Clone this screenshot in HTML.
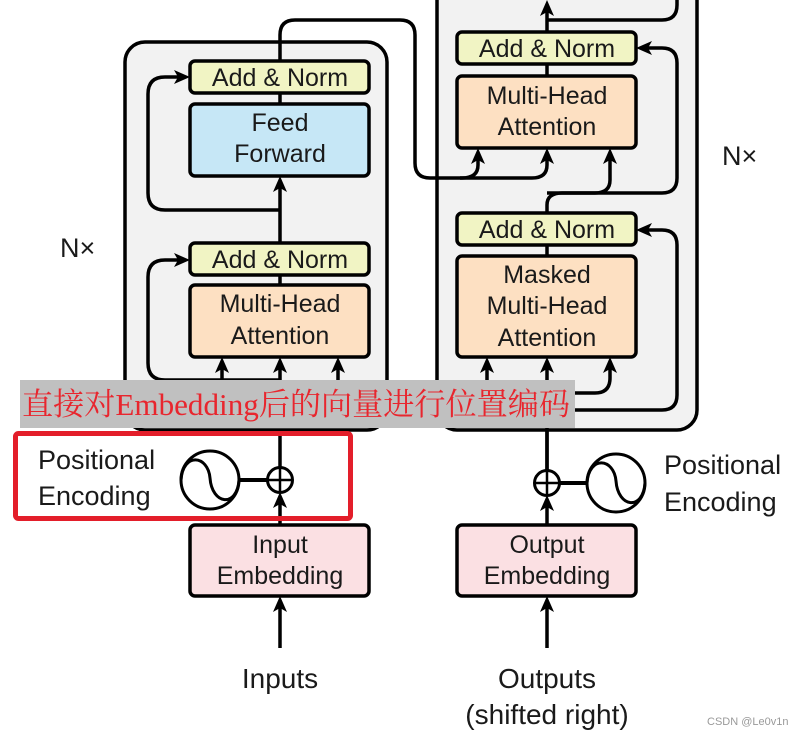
<!DOCTYPE html>
<html><head><meta charset="utf-8"><style>
html,body{margin:0;padding:0;background:#fff;width:805px;height:734px;overflow:hidden}
svg text{font-family:"Liberation Sans",sans-serif;fill:#1a1a1a}
</style></head><body>
<svg width="805" height="734" viewBox="0 0 805 734" xmlns="http://www.w3.org/2000/svg">
<g stroke="#000" stroke-width="3.5" fill="none">
<rect x="125" y="42" width="262" height="388" rx="20" fill="#f2f2f2"/>
<rect x="437" y="-30" width="260" height="460" rx="20" fill="#f2f2f2"/>
<path d="M280 420 V367"/>
<path d="M280 380 H165 Q148 380 148 363 V277 Q148 260 165 260 H180"/>
<path d="M222 380 V367"/>
<path d="M338 380 V367"/>
<path d="M280 243 V186"/>
<path d="M280 210 H165 Q148 210 148 193 V94 Q148 77 165 77 H180"/>
<path d="M280 61 V35 Q280 20 295 20 H400 Q415 20 415 35 V163 Q415 178 430 178 H462 Q478 178 478 165 V158"/>
<path d="M460 178 H532 Q547 178 547 165 V158"/>
<path d="M547 470 V367"/>
<path d="M547 410 H662 Q677 410 677 395 V245 Q677 230 662 230 H646"/>
<path d="M487 380 V367"/>
<path d="M547 393 H595 Q610 393 610 378 V367"/>
<path d="M547 213 V205 Q547 193 562 193 H595 Q610 193 610 180 V158"/>
<path d="M547 193 H662 Q677 193 677 178 V63 Q677 48 662 48 H646"/>
<path d="M547 32 V10"/>
<path d="M547 20 H662 Q677 20 677 5 V-5"/>
<rect x="190" y="61" width="179" height="32" rx="5" fill="#f1f4c4"/>
<rect x="190" y="104" width="179" height="72" rx="5" fill="#c6e7f6"/>
<rect x="190" y="243" width="179" height="32" rx="5" fill="#f1f4c4"/>
<rect x="190" y="285" width="179" height="72" rx="5" fill="#fde0c2"/>
<rect x="457" y="32" width="179" height="32" rx="5" fill="#f1f4c4"/>
<rect x="457" y="76" width="179" height="72" rx="5" fill="#fde0c2"/>
<rect x="457" y="213" width="179" height="32" rx="5" fill="#f1f4c4"/>
<rect x="457" y="256" width="179" height="101" rx="5" fill="#fde0c2"/>
<line x1="280" y1="93" x2="280" y2="104"/><line x1="280" y1="275" x2="280" y2="285"/>
<line x1="547" y1="64" x2="547" y2="76"/><line x1="547" y1="245" x2="547" y2="256"/>
<rect x="190" y="525" width="179" height="71" rx="5" fill="#fbe0e3"/>
<rect x="457" y="525" width="179" height="71" rx="5" fill="#fbe0e3"/>
<path d="M280 648 V606"/>
<path d="M547 648 V606"/>
<path d="M280 525 V502"/>
<path d="M547 525 V505"/>
<line x1="280" y1="468" x2="280" y2="430"/>
<line x1="547" y1="471" x2="547" y2="430"/>
<circle cx="280" cy="480" r="12.5" fill="#fff" stroke-width="3"/>
<path d="M267 480 H293 M280 467 V493" stroke-width="2.5"/>
<circle cx="547" cy="483" r="12.5" fill="#fff" stroke-width="3"/>
<path d="M534 483 H560 M547 470 V496" stroke-width="2.5"/>
<line x1="239" y1="480" x2="268" y2="480" stroke-width="4"/>
<line x1="559" y1="483" x2="587" y2="483" stroke-width="4"/>
<circle cx="210" cy="480" r="29" fill="#fff" stroke-width="3"/>
<path d="M181 480 C183 452 208 455 210 478 C212 505 237 508 239 480" stroke-width="3"/>
<circle cx="616" cy="483" r="29" fill="#fff" stroke-width="3"/>
<path d="M587 483 C589 455 614 458 616 481 C618 508 643 511 645 483" stroke-width="3"/>
</g>
<g fill="#000">
<path d="M222 357 l-7 16 l7 -4 l7 4z"/><path d="M338 357 l-7 16 l7 -4 l7 4z"/>
<path d="M280 357 l-7 16 l7 -4 l7 4z"/><path d="M280 176 l-7 16 l7 -4 l7 4z"/>
<path d="M478 148 l-7 16 l7 -4 l7 4z"/><path d="M547 148 l-7 16 l7 -4 l7 4z"/>
<path d="M610 148 l-7 16 l7 -4 l7 4z"/><path d="M487 357 l-7 16 l7 -4 l7 4z"/>
<path d="M547 357 l-7 16 l7 -4 l7 4z"/><path d="M610 357 l-7 16 l7 -4 l7 4z"/>
<path d="M547 0 l-7 16 l7 -4 l7 4z"/><path d="M280 596 l-7 16 l7 -4 l7 4z"/>
<path d="M547 596 l-7 16 l7 -4 l7 4z"/><path d="M280 492 l-7 16 l7 -4 l7 4z"/>
<path d="M547 495 l-7 16 l7 -4 l7 4z"/>
<path d="M190 260 l-16 -7 l4 7 l-4 7z"/><path d="M190 77 l-16 -7 l4 7 l-4 7z"/>
<path d="M636 230 l16 -7 l-4 7 l4 7z"/><path d="M636 48 l16 -7 l-4 7 l4 7z"/>
</g>
<g font-size="25" text-anchor="middle">
<text x="280" y="86">Add &amp; Norm</text>
<text x="280" y="131">Feed</text><text x="280" y="162">Forward</text>
<text x="280" y="268">Add &amp; Norm</text>
<text x="280" y="312">Multi-Head</text><text x="280" y="344">Attention</text>
<text x="547" y="57">Add &amp; Norm</text>
<text x="547" y="104">Multi-Head</text><text x="547" y="135">Attention</text>
<text x="547" y="238">Add &amp; Norm</text>
<text x="547" y="283">Masked</text><text x="547" y="314">Multi-Head</text><text x="547" y="346">Attention</text>
<text x="280" y="553">Input</text><text x="280" y="584">Embedding</text>
<text x="547" y="553">Output</text><text x="547" y="584">Embedding</text>
<text x="280" y="688" font-size="28">Inputs</text>
<text x="547" y="688" font-size="28">Outputs</text>
<text x="547" y="724" font-size="28">(shifted right)</text>
</g>
<g font-size="27">
<text x="38" y="469">Positional</text><text x="38" y="505">Encoding</text>
<text x="664" y="474">Positional</text><text x="664" y="511">Encoding</text>
<text x="60" y="257">N×</text><text x="722" y="165">N×</text>
</g>
<rect x="20" y="380" width="555" height="48" fill="#c0c0c0"/>
<text x="22" y="415" textLength="548" lengthAdjust="spacingAndGlyphs" style="font-family:'Liberation Serif','Noto Serif CJK SC',serif;fill:#e8262e" font-size="31">直接对Embedding后的向量进行位置编码</text>
<rect x="15.5" y="433.5" width="335" height="85" rx="3" fill="none" stroke="#e31e2a" stroke-width="5"/>
<text x="707" y="725" font-size="11" style="fill:#999">CSDN @Le0v1n</text>
</svg>
</body></html>
